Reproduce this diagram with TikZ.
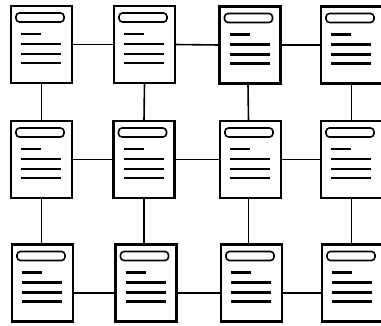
\documentclass[tikz,border=0pt]{standalone}
\begin{document}
\begin{tikzpicture}[x=1pt,y=-1pt,
  doc/.style={draw, line width=2.2pt, minimum width=61pt, minimum height=77pt, inner sep=0pt, outer sep=0pt},
  link/.style={line width=1.6pt},
  hbar/.style={line width=1.6pt, rounded corners=3.5pt},
  txt/.style={line width=2.1pt}]
\useasboundingbox (0,0) rectangle (381,325);
% nodes
\node[doc] (a1) at (41.5,44.5) {};
\node[doc] (a2) at (144.5,44.5) {};
\node[doc] (a3) at (250,45) {};
\node[doc] (a4) at (351.5,45) {};
\node[doc] (b1) at (41.5,159.5) {};
\node[doc] (b2) at (144,159.5) {};
\node[doc] (b3) at (250.5,159.5) {};
\node[doc] (b4) at (351.5,159.5) {};
\node[doc] (c1) at (42.5,283) {};
\node[doc] (c2) at (146,283) {};
\node[doc] (c3) at (251.5,283) {};
\node[doc] (c4) at (352.5,283) {};
% contents
\foreach \n in {a1,a2,a3,a4,b1,b2,b3,b4,c1,c2,c3,c4}{
  \begin{scope}[shift={(\n.north west)}]
    \draw[hbar] (5,7) rectangle (53,16);
    \draw[txt] (10,28)--(30,28) (10,38)--(50,38) (10,48)--(50,48) (10,57)--(50,57);
  \end{scope}
}
% horizontal connectors
\draw[link] (a1.east) -- (a2.west);
\draw[link] (a2.east) -- (a3.west);
\draw[link] (a3.east) -- (a4.west);
\draw[link] (b1.east) -- (b2.west);
\draw[link] (b2.east) -- (b3.west);
\draw[link] (b3.east) -- (b4.west);
\draw[link] ([yshift=-10pt]c1.east) -- ([yshift=-10pt]c2.west);
\draw[link] ([yshift=-10pt]c2.east) -- ([yshift=-10pt]c3.west);
\draw[link] ([yshift=-10pt]c3.east) -- ([yshift=-10pt]c4.west);
% vertical connectors
\draw[link] (a1.south) -- (b1.north);
\draw[link] (a2.south) -- (b2.north);
\draw[link] ([xshift=-2pt]a3.south) -- ([xshift=-2pt]b3.north);
\draw[link] (a4.south) -- (b4.north);
\draw[link] (b1.south) -- (b1.south |- c1.north);
\draw[link] (b2.south) -- (b2.south |- c2.north);
\draw[link] ([xshift=-2pt]b3.south) -- ([xshift=-2pt]b3.south |- c3.north);
\draw[link] (b4.south) -- (b4.south |- c4.north);
\end{tikzpicture}
\end{document}
